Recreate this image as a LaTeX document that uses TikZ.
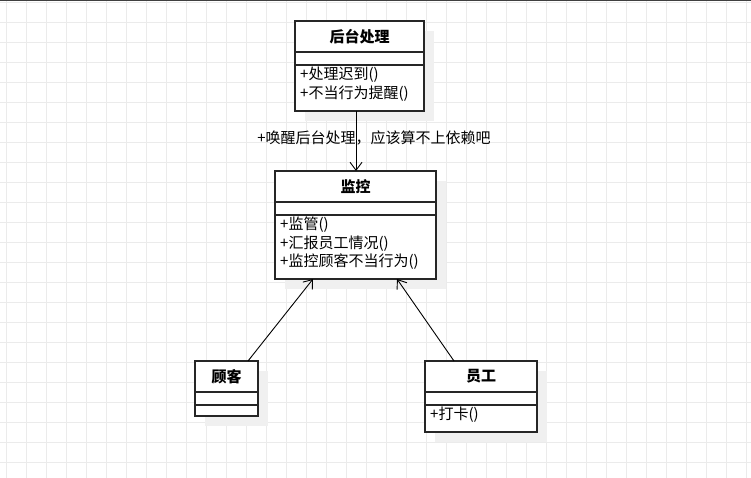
\documentclass[tikz,border=0pt]{standalone}
\usepackage{fontspec}
\setmainfont{Noto Sans CJK SC}
\usetikzlibrary{arrows.meta}
\begin{document}
\begin{tikzpicture}[x=1pt,y=-1pt,
  box/.style={draw=black!85,line width=1.2pt,fill=white,anchor=north west,inner sep=0pt,outer sep=0pt},
  shadow/.style={fill=black!6,draw=none},
  ttl/.style={font=\fontsize{15}{16}\selectfont\bfseries},
  mth/.style={font=\fontsize{15}{18.5}\selectfont,align=left,anchor=north west,inner sep=0pt},
  conn/.style={draw=black,line width=0.9pt,-{Straight Barb[length=8pt,width=12pt]}}]
\useasboundingbox (0,0) rectangle (751,478);
\fill[white] (0,0) rectangle (751,478);
\foreach \x in {6,26,...,746} \draw[black!8,line width=0.8pt] (\x,0) -- (\x,478);
\foreach \y in {2,22,...,478} \draw[black!8,line width=0.8pt] (0,\y) -- (751,\y);
\draw[black!75,line width=1.5pt] (0,0.5) -- (751,0.5);
% shadows
\fill[shadow] (305,31) rectangle (434,121);
\fill[shadow] (285,181) rectangle (446,289);
\fill[shadow] (205,371) rectangle (268,426);
\fill[shadow] (435,371) rectangle (547,442);
% 后台处理
\node[box,minimum width=129pt,minimum height=31pt] (b1) at (295,21) {};
\node[ttl] at (b1.center) {后台处理};
\node[box,minimum width=129pt,minimum height=13pt] (b1a) at (295,52) {};
\node[box,minimum width=129pt,minimum height=46pt] (b1m) at (295,65) {};
\node[mth] at (300,67) {+处理迟到()\\+不当行为提醒()};
% 监控
\node[box,minimum width=161pt,minimum height=31pt] (m) at (275,171) {};
\node[ttl] at (m.center) {监控};
\node[box,minimum width=161pt,minimum height=13pt] (ma) at (275,202) {};
\node[box,minimum width=161pt,minimum height=64pt] (mm) at (275,215) {};
\node[mth] at (280,217) {+监管()\\+汇报员工情况()\\+监控顾客不当行为()};
% 顾客
\node[box,minimum width=63pt,minimum height=31pt] (c) at (195,361) {};
\node[ttl] at (c.center) {顾客};
\node[box,minimum width=63pt,minimum height=13pt] (ca) at (195,392) {};
\node[box,minimum width=63pt,minimum height=11pt] (cm) at (195,405) {};
% 员工
\node[box,minimum width=112pt,minimum height=31pt] (e) at (425,361) {};
\node[ttl] at (e.center) {员工};
\node[box,minimum width=112pt,minimum height=13pt] (ea) at (425,392) {};
\node[box,minimum width=112pt,minimum height=27pt] (em) at (425,405) {};
\node[mth] at (430,407) {+打卡()};
% connectors
\coordinate (s1) at (356,111); \coordinate (t1) at (356,171);
\draw[conn] (s1) -- (t1);
\node[font=\fontsize{15}{16}\selectfont,inner sep=0pt] (lbl) at (374,138) {+唤醒后台处理，应该算不上依赖吧};
\coordinate (s2) at (248,361); \coordinate (t2) at (313,279);
\draw[conn] (s2) -- (t2);
\coordinate (s3) at (454,361); \coordinate (t3) at (397,279);
\draw[conn] (s3) -- (t3);
\end{tikzpicture}
\end{document}
